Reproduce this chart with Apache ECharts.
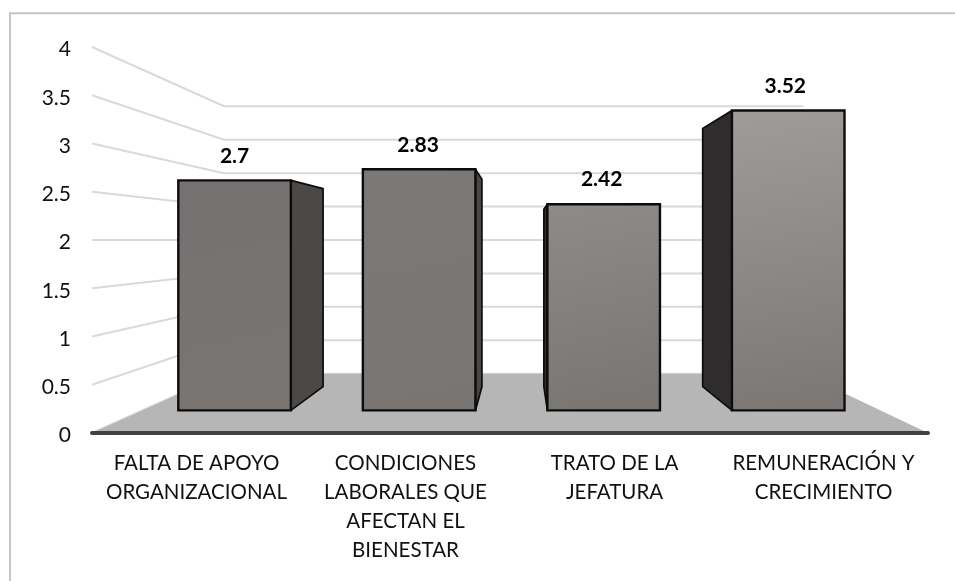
<!DOCTYPE html>
<html>
<head>
<meta charset="utf-8">
<style>html,body{margin:0;padding:0;background:#fff}#chart{width:955px;height:581px}</style>
<script src="https://cdn.jsdelivr.net/npm/echarts@6/dist/echarts.min.js"></script>
</head>
<body>
<div id="chart"></div>
<script>
// Perceived causes, scored 0-4, drawn as perspective columns on a floor.
const categories = [
  'FALTA DE APOYO\nORGANIZACIONAL',
  'CONDICIONES\nLABORALES QUE\nAFECTAN EL\nBIENESTAR',
  'TRATO DE LA\nJEFATURA',
  'REMUNERACIÓN Y\nCRECIMIENTO'
];
const scores = [2.7, 2.83, 2.42, 3.52];
const wallTicks = [0, 0.5, 1, 1.5, 2, 2.5, 3, 3.5, 4];

// Depth factors of the view: front plane = 1, back wall and column faces behind it.
const DEPTH_BACK = 0.693;
const DEPTH_COL_FRONT = 0.883;
const DEPTH_COL_BACK = 0.76;
const COL_RATIO = 0.61;
const VANISH_X_SHARE = 0.5144;  // vanishing point across the plot width
const VANISH_VALUE = 2;         // the eye level sits at this axis value

const FONT = 'Lato, Carlito, "Open Sans", sans-serif';

function viewOf(api) {
  const a = api.coord([0, 0]);
  const size = api.size([1, 0])[0];
  const left = a[0] - size / 2;
  const vx = left + size * categories.length * VANISH_X_SHARE;
  const vy = api.coord([0, VANISH_VALUE])[1];
  return {
    left, size, vx, vy,
    project: (x, y, s) => [vx + (x - vx) * s, vy + (y - vy) * s]
  };
}

function renderFloor(params, api) {
  const v = viewOf(api);
  const y0 = api.coord([0, 0])[1];
  const right = v.left + v.size * categories.length;
  return {
    type: 'polygon',
    shape: { points: [
      [v.left, y0], [right, y0],
      v.project(right, y0, DEPTH_BACK), v.project(v.left, y0, DEPTH_BACK)
    ] },
    style: { fill: '#b6b6b6' }
  };
}

function renderWall(params, api) {
  const v = viewOf(api);
  const y = api.coord([0, api.value(0)])[1];
  const right = v.left + v.size * categories.length;
  return {
    type: 'polyline',
    shape: { points: [[v.left, y], v.project(v.left, y, DEPTH_BACK), v.project(right, y, DEPTH_BACK)] },
    style: { fill: null, stroke: '#d9d9d9', lineWidth: 2 }
  };
}

const faceTones = [
  ['#757170', '#797573'],
  ['#7c7876', '#797573'],
  ['#8e8a88', '#797573'],
  ['#9f9b99', '#7b7775']
];
const sideTones = ['#4c4846', '#4a4745', '#2f2d2e', '#2e2c2d'];

function renderColumn(params, api) {
  const v = viewOf(api);
  const i = api.value(0);
  const c = api.coord([i, 0]);
  const top = api.coord([i, api.value(1)])[1];
  const half = v.size * COL_RATIO / 2;
  const xl = c[0] - half, xr = c[0] + half;
  const f = (x, y) => v.project(x, y, DEPTH_COL_FRONT);
  const b = (x, y) => v.project(x, y, DEPTH_COL_BACK);
  // The visible side is the one facing the vanishing point.
  const sideX = xr < v.vx ? xr : xl;
  const frontTL = f(xl, top), frontBR = f(xr, c[1]);
  const tones = faceTones[params.dataIndex];
  return {
    type: 'group',
    children: [
      {
        type: 'polygon',
        shape: { points: [f(sideX, top), b(sideX, top), b(sideX, c[1]), f(sideX, c[1])] },
        style: { fill: sideTones[params.dataIndex], stroke: '#0c0c0c', lineWidth: 1.7, lineJoin: 'round' }
      },
      {
        type: 'rect',
        shape: { x: frontTL[0], y: frontTL[1], width: frontBR[0] - frontTL[0], height: frontBR[1] - frontTL[1] },
        style: {
          fill: new echarts.graphic.LinearGradient(0.2, 0, 0.6, 1, [
            { offset: 0, color: tones[0] }, { offset: 1, color: tones[1] }
          ]),
          stroke: '#0c0c0c', lineWidth: 2.4
        }
      },
      {
        type: 'text',
        style: {
          x: (frontTL[0] + frontBR[0]) / 2 - params.dataIndex, y: frontTL[1] - 24.5,
          text: String(api.value(1)), align: 'center', verticalAlign: 'middle',
          font: 'bold 21px ' + FONT, fill: '#000'
        }
      }
    ]
  };
}

const chart = echarts.init(document.getElementById('chart'), null, { renderer: 'canvas' });
chart.setOption({
  animation: false,
  backgroundColor: '#fff',
  grid: { left: 92, right: 27, top: 47, bottom: 148 },
  xAxis: {
    type: 'category',
    data: categories,
    z: 6,
    axisTick: { show: false },
    axisLine: { lineStyle: { color: '#424242', width: 4, cap: 'round' } },
    axisLabel: { color: '#111', fontFamily: FONT, fontSize: 20.5, lineHeight: 29, margin: 16, interval: 0 }
  },
  yAxis: {
    type: 'value',
    min: 0, max: 4, interval: 0.5,
    axisLine: { show: false },
    axisTick: { show: false },
    splitLine: { show: false },
    axisLabel: { color: '#111', fontFamily: FONT, fontSize: 21, margin: 21, verticalAlign: 'top', lineHeight: 5 }
  },
  graphic: [{
    type: 'polyline',
    silent: true,
    shape: { points: [[10, 581], [10, 13.3], [955, 13.3]] },
    style: { fill: null, stroke: '#c6c6c6', lineWidth: 2 }
  }],
  series: [
    { type: 'custom', coordinateSystem: 'cartesian2d', z: 1, data: wallTicks.map(t => [t]),
      encode: { y: 0 }, renderItem: renderWall, silent: true },
    { type: 'custom', coordinateSystem: 'cartesian2d', z: 2, data: [[0]],
      encode: { y: 0 }, renderItem: renderFloor, silent: true },
    { type: 'custom', coordinateSystem: 'cartesian2d', z: 3,
      data: scores.map((s, i) => [i, s]),
      encode: { x: 0, y: 1 }, renderItem: renderColumn }
  ]
});
</script>
</body>
</html>
